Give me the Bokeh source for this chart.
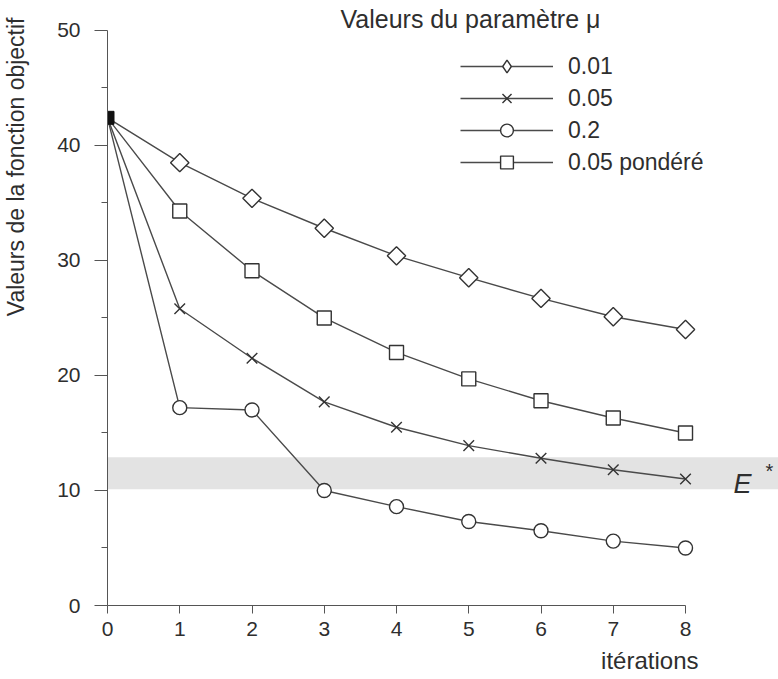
import math
from bokeh.plotting import figure
from bokeh.models import (ColumnDataSource, BoxAnnotation, Label, Legend, LegendItem,
                          FixedTicker, Title, Range1d)
from bokeh.embed import file_html
from bokeh.resources import INLINE

# ---------------- data ----------------
iterations = [0, 1, 2, 3, 4, 5, 6, 7, 8]
start_value = 42.4
mu_001 = [42.4, 38.5, 35.4, 32.8, 30.4, 28.5, 26.7, 25.1, 24.0]
mu_005 = [42.4, 25.8, 21.5, 17.7, 15.5, 13.9, 12.8, 11.8, 11.0]
mu_02 = [42.4, 17.2, 17.0, 10.0, 8.6, 7.3, 6.5, 5.6, 5.0]
mu_005_pond = [42.4, 34.3, 29.1, 25.0, 22.0, 19.7, 17.8, 16.3, 15.0]
series_labels = ["0.01", "0.05", "0.2", "0.05 pondéré"]
e_star_band = (10.1, 12.9)
x_ticks = [0, 1, 2, 3, 4, 5, 6, 7, 8]
y_ticks = [0, 10, 20, 30, 40, 50]
y_minor = [5, 15, 25, 35, 45]

FONT = "Liberation Sans"
TXT = "#2e2e2e"
LINE = "#4a4a4a"
MK = "#333333"

W, H = 778, 679
p = figure(width=W, height=H, output_backend="svg", toolbar_location=None,
           x_range=(0, 9.287), y_range=(0, 52.6),
           min_border_left=107, min_border_right=0, min_border_top=0,
           min_border_bottom=74)
p.outline_line_color = None
p.xgrid.visible = False
p.ygrid.visible = False
p.background_fill_color = "white"
# off-screen range used only by legend-only renderers
p.extra_x_ranges = {"legend_only": Range1d(1000, 1001)}

band = BoxAnnotation(bottom=e_star_band[0], top=e_star_band[1], left=0,
                     fill_color="#e3e3e3", fill_alpha=1.0, line_color=None,
                     level="underlay")
p.add_layout(band)

# axes
xa = p.xaxis[0]
xa.ticker = FixedTicker(ticks=x_ticks, minor_ticks=[])
xa.bounds = (0, 8)
xa.axis_line_color = "#555555"
xa.major_tick_line_color = "#555555"
xa.major_tick_out = 8
xa.major_tick_in = 0
xa.minor_tick_line_color = None
xa.major_label_text_font = FONT
xa.major_label_text_font_size = "21px"
xa.major_label_text_color = TXT
xa.major_label_standoff = 8

ya = p.yaxis[0]
ya.ticker = FixedTicker(ticks=y_ticks, minor_ticks=y_minor)
ya.bounds = (0, 50)
ya.axis_line_color = "#555555"
ya.major_tick_line_color = "#555555"
ya.minor_tick_line_color = "#555555"
ya.major_tick_out = 13
ya.major_tick_in = 0
ya.minor_tick_out = 6
ya.minor_tick_in = 0
ya.major_label_text_font = FONT
ya.major_label_text_font_size = "21px"
ya.major_label_text_color = TXT
ya.major_label_standoff = 14

series = [mu_001, mu_005, mu_02, mu_005_pond]
markers = ["square", "x", "circle", "square"]
legend_markers = ["diamond", "x", "circle", "square"]
angles = [math.pi / 4, 0, 0, 0]
sizes = [13, 15, 14, 14]
items = []
for vals, mk, lmk, ang, sz, lab in zip(series, markers, legend_markers, angles,
                                       sizes, series_labels):
    src = ColumnDataSource(dict(x=iterations, y=vals))
    ln = p.line("x", "y", source=src, line_color=LINE, line_width=1.4)
    msrc = ColumnDataSource(dict(x=iterations[1:], y=vals[1:]))
    sc = p.scatter("x", "y", source=msrc, marker=mk, size=sz, angle=ang,
                   fill_color="white", line_color=MK, line_width=1.4)
    if lmk != mk or ang != 0:
        # legend-only marker (the legend does not rotate markers)
        lsc = p.scatter("x", "y", source=msrc, marker=lmk, size=sz,
                        x_range_name="legend_only",
                        fill_color="white", line_color=MK, line_width=1.4)
        items.append(LegendItem(label=lab, renderers=[ln, lsc]))
    else:
        items.append(LegendItem(label=lab, renderers=[ln, sc]))

# common starting point
p.scatter(x=[0], y=[start_value], marker="square", size=13,
          fill_color="#111111", line_color="#111111")

legend = Legend(items=items, location=(353, 427), orientation="vertical",
                glyph_width=93, glyph_height=32, spacing=0, padding=0, margin=0,
                label_standoff=15, border_line_color=None,
                background_fill_alpha=0.0,
                label_text_font=FONT, label_text_font_size="23px",
                label_text_color=TXT, label_height=32)
p.add_layout(legend)

p.add_layout(Label(x=233, y=587, x_units="screen", y_units="screen",
                   text="Valeurs du paramètre μ", text_font=FONT,
                   text_font_size="25px", text_color=TXT,
                   text_baseline="middle", text_align="left"))

p.add_layout(Label(x=626, y=122, x_units="screen", y_units="screen",
                   text="E", text_font=FONT, text_font_size="27px",
                   text_font_style="italic", text_color=TXT,
                   text_baseline="alphabetic", text_align="left"))
p.add_layout(Label(x=662, y=146, x_units="screen", y_units="screen",
                   text="*", text_font=FONT, text_font_size="20px",
                   text_color=TXT, text_baseline="top", text_align="center"))

# spacer between the y axis and its title
spacer = Title(text=" ", text_font_size="2px", standoff=22)
p.add_layout(spacer, "left")

ytitle = Title(text="Valeurs de la fonction objectif", align="right", offset=17,
               text_font=FONT, text_font_size="23px", text_font_style="normal",
               text_color=TXT, standoff=0, vertical_align="bottom")
p.add_layout(ytitle, "left")

xtitle = Title(text="itérations", align="right", offset=80,
               text_font=FONT, text_font_size="24px", text_font_style="normal",
               text_color=TXT, standoff=12)
p.add_layout(xtitle, "below")

open("out.html", "w").write(file_html(p, INLINE))
